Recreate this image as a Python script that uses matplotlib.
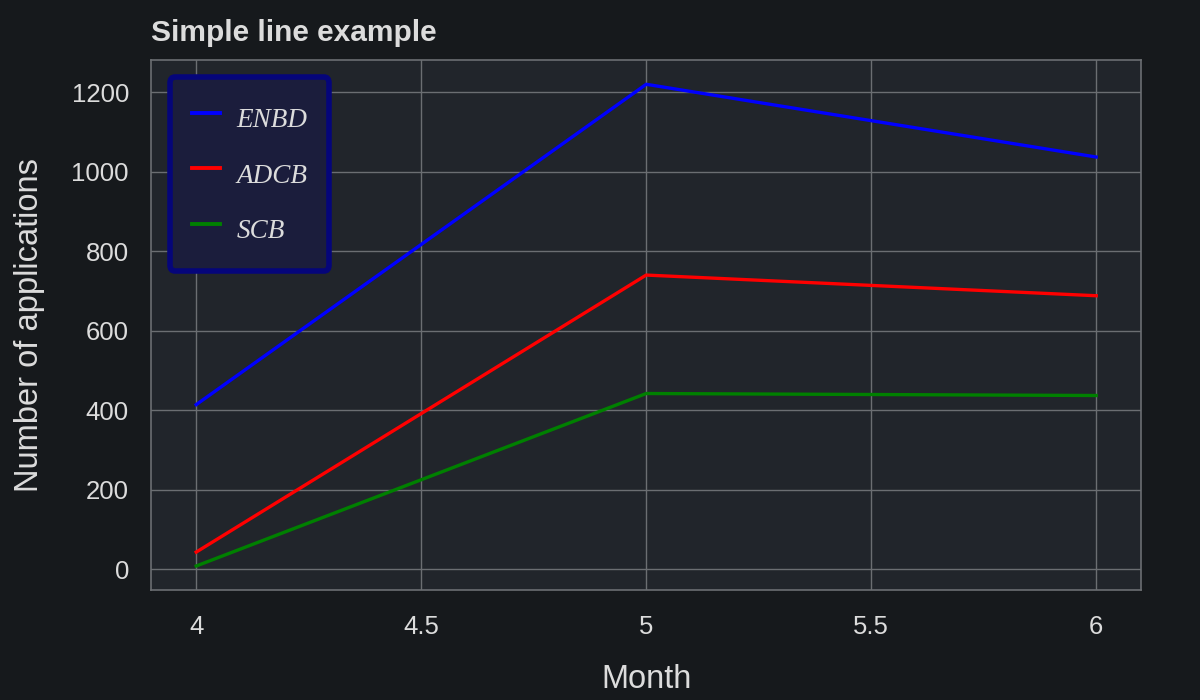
import matplotlib
matplotlib.use('Agg')
import matplotlib.pyplot as plt

months = [4, 5, 6]
enbd = [414, 1220, 1037]
adcb = [43, 740, 688]
scb = [8, 442, 437]

plt.rcParams['font.family'] = 'Liberation Sans'
txt = '#dcdcdc'

fig = plt.figure(figsize=(12, 7), dpi=100, facecolor='#16191c')
ax = fig.add_axes([0.126, 0.157, 0.825, 0.757])
ax.set_facecolor('#21252b')

ax.plot(months, enbd, color='blue', lw=2.4, label='ENBD')
ax.plot(months, adcb, color='red', lw=2.4, label='ADCB')
ax.plot(months, scb, color='green', lw=2.4, label='SCB')

ax.grid(True, color='#6b6e72', lw=1)
ax.set_axisbelow(True)
for s in ax.spines.values():
    s.set_color('#6b6e72')
    s.set_linewidth(1.2)

ax.set_xticks([4, 4.5, 5, 5.5, 6])
ax.set_xticklabels(['4', '4.5', '5', '5.5', '6'])
ax.set_yticks([0, 200, 400, 600, 800, 1000, 1200])
ax.tick_params(length=0, labelsize=18.5, colors=txt)
ax.tick_params(axis='x', pad=18)
ax.tick_params(axis='y', pad=16)

ax.set_xlabel('Month', fontsize=23.5, color=txt, labelpad=18)
ax.set_ylabel('Number of applications', fontsize=23.5, color=txt, labelpad=19)
ax.set_title('Simple line example', loc='left', fontsize=21.5, fontweight='bold',
             color=txt, pad=14)

leg = ax.legend(loc='upper left', bbox_to_anchor=(0.019, 0.968), borderaxespad=0,
                prop={'family': 'Liberation Serif', 'style': 'italic', 'size': 19.5},
                labelcolor=txt, fancybox=True, framealpha=1,
                borderpad=0.8, labelspacing=0.6, handlelength=1.05,
                handleheight=1.85, handletextpad=0.6)
frame = leg.get_frame()
frame.set_facecolor('#1b1d3c')
frame.set_edgecolor('#05057a')
frame.set_linewidth(4)
for line in leg.get_lines():
    line.set_linewidth(2.8)

fig.savefig('out.png', dpi=100, facecolor=fig.get_facecolor())
